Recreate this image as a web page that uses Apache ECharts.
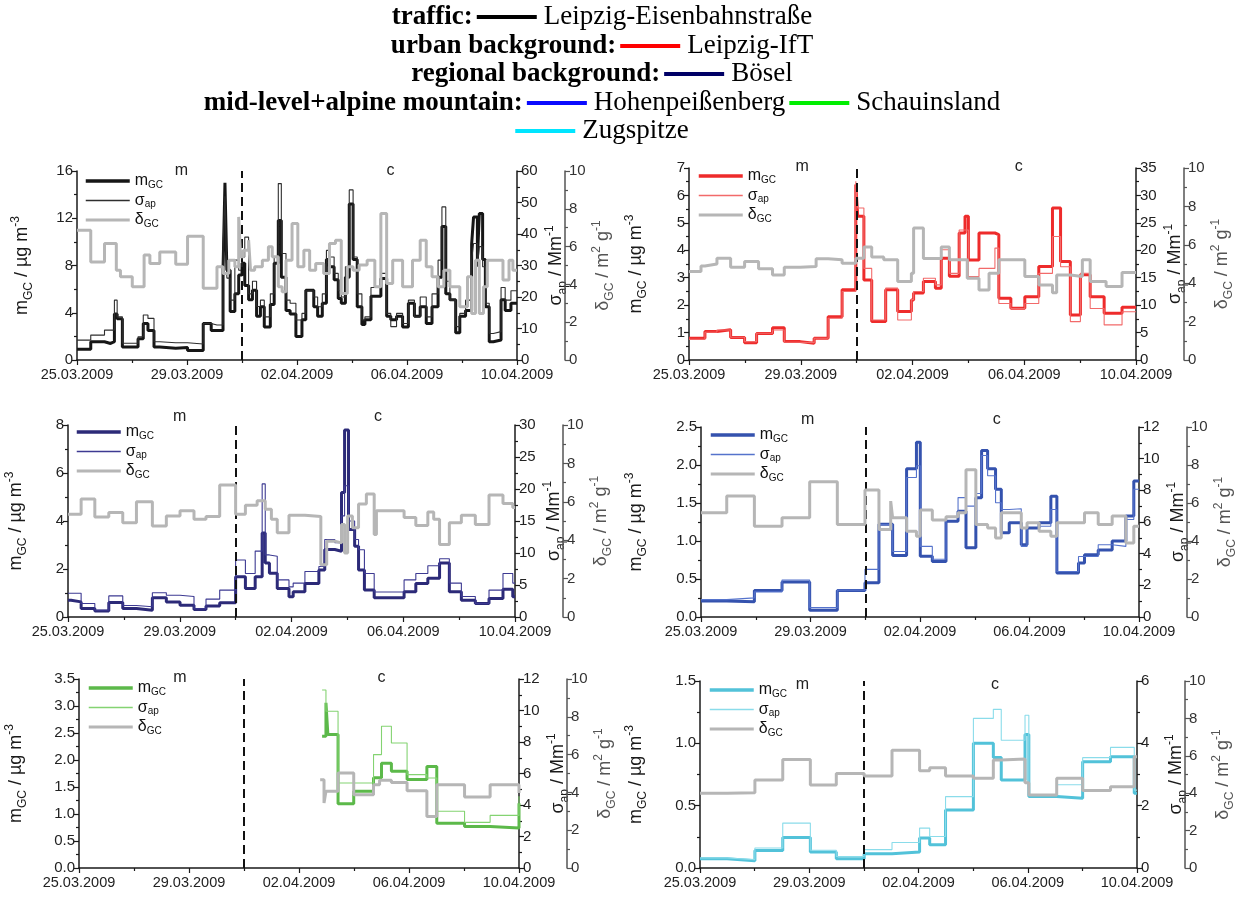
<!DOCTYPE html>
<html><head><meta charset="utf-8">
<script src="https://cdn.jsdelivr.net/npm/echarts@6/dist/echarts.min.js"></script>
<style>html,body{margin:0;padding:0;background:#fff}#c{width:1242px;height:897px}</style>
</head><body><div id="c"></div>
<script>
// ---------- tick labels ----------
const dateLabels = ['25.03.2009','29.03.2009','02.04.2009','06.04.2009','10.04.2009'];

// ---------- data (days after 25.03.2009 00:00) ----------
// Panel 1: traffic, Leipzig-Eisenbahnstraße
const p1Time = [0,0.50,1.00,1.22,1.36,1.46,1.65,2.22,2.41,2.58,2.80,3.01,3.59,4.02,4.59,4.88,5.09,5.31,5.38,5.45,5.57,5.74,5.88,6.00,6.10,6.24,6.38,6.53,6.67,6.81,7.03,7.17,7.32,7.43,7.60,7.75,7.96,8.18,8.32,8.61,8.75,8.92,9.07,9.18,9.35,9.50,9.61,9.76,9.90,10.04,10.19,10.36,10.47,10.69,11.05,11.26,11.41,11.62,11.84,12.05,12.27,12.48,12.70,12.91,13.13,13.27,13.41,13.56,13.77,13.92,14.13,14.35,14.42,14.56,14.63,14.75,14.85,14.99,15.14,15.42,15.57,15.78,16];
const p1M = [0.9,1.55,1.4,1.55,3.9,3.5,1.1,1.8,3.1,2.5,1.1,1.0,1.05,0.8,3.1,2.5,2.5,7.6,15,7.6,4.1,5.6,7.2,8.2,6.3,5.1,5.9,3.7,4.5,2.8,4.7,8.2,11.8,7.0,4.2,3.9,2.0,3.4,5.9,4.5,3.7,4.8,8.5,7.9,6.8,5.2,4.8,7.0,13.2,8.5,4.5,3.0,3.4,5.4,6.9,3.7,3.4,3.7,2.8,4.8,3.7,4.5,3.1,4.5,7.0,11.3,5.6,5.1,2.3,3.7,4.2,9.8,12.1,8.5,12.4,8.5,4.5,1.55,1.7,5.1,4.2,4.8];
const p1S = [6.3,7.9,9.5,9.5,19,13.7,5.3,7.4,14.3,13.2,5.8,5.5,5.5,5.1,11.6,11.1,11.1,36,52,26,19,31.7,28.5,32.7,39,21,25,17,19,13.7,21,32.7,56,33.8,19,18,12.7,14.8,22,20,16.9,21,34.8,32.7,27.5,22,20,29.6,54,32.7,21,12.7,13.7,23,27.5,14.8,10.6,14.8,11.6,19,13.7,20,13.7,21,31.7,48.6,25,19,10.6,14.8,19,31.7,37,29.6,36,29.6,18,8.4,9.0,23,19,22];
const p1DTime = [0,0.50,1.00,1.43,1.58,2.01,2.44,2.65,3.01,3.59,4.02,4.59,5.09,5.31,5.52,5.74,5.88,5.95,6.05,6.24,6.31,6.46,6.74,6.96,7.10,7.32,7.46,7.60,7.82,8.03,8.25,8.46,8.68,8.97,9.18,9.40,9.61,9.83,10.04,10.26,10.55,10.83,11.05,11.26,11.48,11.84,12.20,12.48,12.70,12.91,13.13,13.34,13.56,13.92,14.20,14.35,14.49,14.63,14.78,14.92,15.49,15.71,15.85,16];
const p1D = [6.87,5.19,6.16,4.75,4.4,3.87,5.55,5.1,5.72,5.07,6.55,3.79,4.93,4.58,5.28,4.93,7.57,5.46,5.81,6.34,4.75,4.93,5.28,5.99,5.46,3.87,3.61,5.28,7.22,4.93,5.81,4.75,5.1,4.58,6.16,6.34,3.52,4.93,4.75,5.02,5.28,3.87,7.75,4.05,5.28,3.87,5.28,6.34,4.93,4.4,3.87,4.75,3.87,2.82,4.4,2.46,5.28,2.46,3.87,5.28,4.23,5.28,4.75];

// Panel 2: urban background, Leipzig-IfT
const p2Time = [0,0.57,1.00,1.49,1.99,2.42,2.99,3.41,3.98,4.48,4.98,5.48,5.97,6.04,6.26,6.54,7.04,7.47,7.96,8.04,8.39,8.82,9.03,9.32,9.67,9.88,10.00,10.38,10.95,11.09,11.52,12.02,12.52,13.01,13.30,13.65,14.01,14.36,14.86,15.50,16];
const p2M = [0.79,1.04,1.10,0.82,0.63,0.97,1.18,0.67,0.61,0.79,1.58,2.56,6.4,5.24,2.92,1.40,2.56,1.77,2.19,2.44,2.86,2.62,3.71,3.05,4.63,5.24,3.65,4.63,4.57,2.25,1.89,2.31,3.41,5.54,3.59,1.64,3.11,2.31,1.70,1.92];
const p2S = [3.77,5.05,5.48,4.14,3.35,4.87,5.48,3.23,3.16,3.96,7.6,12.5,32.6,27.7,16.7,7.3,13.1,7.3,11,12.5,14.9,13.7,20.1,15.8,23.7,23.7,15.2,16.7,20.4,10.3,9.4,10.3,15.8,22.5,17,7,15.8,9.4,6.4,8.8];
const p2DTime = [0,0.43,0.57,1.00,1.49,1.99,2.49,2.99,3.41,3.98,4.55,4.98,5.48,5.97,6.26,6.54,6.97,7.47,7.96,8.04,8.39,9.03,9.32,9.96,10.38,10.74,11.09,12.02,12.52,13.01,13.16,13.65,14.08,14.36,14.93,15.50,16];
const p2D = [4.61,4.9,5.0,5.3,4.83,5.13,4.75,4.43,4.83,4.87,5.27,5.22,5.04,5.3,5.88,5.36,5.22,4.09,4.52,6.87,5.29,5.88,5.22,4.26,3.65,4.52,5.22,4.35,3.91,3.5,4.43,4.35,5.22,4.09,3.83,4.56];

// Panel 3: regional background, Bösel
const p3Time = [0,0.11,0.47,0.96,1.46,1.96,2.45,3.02,3.52,4.01,4.51,4.94,5.43,6.00,6.35,6.70,6.95,7.06,7.21,7.49,7.91,8.06,8.48,8.98,9.19,9.55,9.79,9.90,10.04,10.26,10.40,10.61,10.96,12.03,12.45,12.88,13.30,13.65,14.08,14.58,15.07,15.57,15.92,16];
const p3M = [0.7,0.63,0.35,0.25,0.6,0.35,0.28,0.8,0.63,0.49,0.31,0.46,0.59,1.68,1.19,1.68,3.5,2.25,1.82,1.19,0.84,1.05,1.4,1.96,2.81,2.74,5.19,7.79,3.65,2.95,1.96,1.12,0.8,1.05,1.4,1.61,2.25,1.05,0.7,0.56,0.77,1.16,0.84];
const p3S = [3.7,3.7,2.1,1.05,3.3,1.8,1.6,3.8,3.4,3.2,1.3,2.8,4.2,8.9,6.8,10.3,20.8,9.7,9.5,5.8,4.7,5.3,7.1,7.9,12.1,11.6,15.8,20.5,15,12.1,10.5,6.8,3.9,5.8,6.8,8.0,9.1,5.3,3.2,2.1,4.2,6.8,5.3];
const p3DTime = [0,0.47,0.96,1.46,1.96,2.45,3.02,3.52,4.01,4.51,4.94,5.43,6.00,6.35,6.77,7.06,7.28,7.49,7.91,8.48,9.05,9.26,9.55,9.79,9.90,10.01,10.18,10.40,10.68,10.96,11.04,12.03,12.45,12.88,13.09,13.30,13.65,14.08,14.58,15.07,15.57,15.92,16];
const p3D = [5.35,6.14,5.21,5.44,4.91,6.0,4.74,5.26,5.53,5.09,5.23,6.88,5.35,5.82,6.05,5.61,5.09,4.39,5.3,5.23,2.72,3.95,3.86,4.82,3.33,5.26,4.65,5.88,6.4,4.3,5.53,5.18,4.77,5.47,5.09,3.77,4.91,5.3,4.82,6.35,5.91,5.7];

// Panel 4: Hohenpeißenberg
const p4Time = [0,0.94,1.95,2.96,3.97,4.98,5.99,6.50,7.00,7.51,7.87,8.01,8.45,8.95,9.39,9.68,10.04,10.25,10.47,10.76,10.97,11.26,11.70,11.91,12.35,12.78,13.00,13.79,14.01,14.51,15.02,15.52,15.81,16];
const p4M = [0.21,0.2,0.35,0.46,0.09,0.35,0.45,1.22,0.81,1.95,2.3,0.8,0.73,1.26,1.39,0.91,1.57,2.19,1.95,1.68,1.11,1.24,0.95,1.17,1.24,1.59,0.58,0.71,0.82,0.88,1.0,1.33,1.79];
const p4S = [1.1,1.21,1.59,2.34,0.59,1.7,3.01,5.84,4.14,8.81,9.55,4.46,3.65,6.3,7.54,7.0,7.8,10.2,8.92,7.22,6.79,6.84,4.46,5.94,5.73,6.79,2.87,3.82,3.82,4.56,4.46,6.16,8.07];
const p4DTime = [0,0.94,1.95,2.96,3.97,4.98,5.99,6.50,6.93,7.00,7.51,7.87,8.01,8.45,8.95,9.39,9.68,10.04,10.47,10.76,10.97,11.70,11.91,12.35,12.78,13.00,14.01,14.51,15.02,15.52,15.81,16];
const p4D = [5.49,6.37,4.78,5.22,7.12,4.87,6.69,4.6,6.1,5.22,4.51,4.25,5.63,5.1,5.27,5.49,7.75,4.87,4.69,4.16,5.49,4.69,4.96,4.51,4.25,4.96,5.49,4.87,5.31,3.89,4.78];

// Panel 5: Schauinsland
const p5Time = [8.84,8.98,9.05,9.42,9.99,10.71,11.00,11.36,11.93,12.65,13.01,14.02,14.95,16];
const p5M = [2.44,3.06,2.47,1.19,1.42,1.67,1.94,1.79,1.64,1.88,0.83,0.77,0.74,1.2];
const p5S = [11.3,9.95,9.95,5.4,5.4,7.2,9.0,7.94,5.93,5.71,3.6,2.9,3.34,4.55];
const p5DTime = [8.77,8.91,8.98,9.42,9.99,10.71,10.93,11.36,11.93,12.65,13.01,14.02,14.95,16];
const p5D = [4.67,3.44,4.06,5.03,3.88,4.41,4.64,4.53,4.09,2.73,4.41,3.76,4.41,3.97];

// Panel 6: Zugspitze
const p6Time = [0,0.99,2.01,3.03,4.04,4.99,6.01,7.03,8.04,8.41,8.99,10.01,10.74,11.03,11.90,12.04,13.06,14.01,15.03,15.90,16];
const p6M = [0.075,0.059,0.14,0.245,0.128,0.075,0.115,0.128,0.24,0.187,0.466,1.0,0.887,0.706,1.07,0.573,0.56,0.853,0.893,0.6];
const p6S = [0.32,0.27,0.64,1.44,0.57,0.37,0.59,0.82,1.28,1.01,2.29,4.8,5.09,4.1,4.9,2.35,2.67,3.54,3.87,2.5];
const p6DTime = p6Time;
const p6D = [4.0,4.03,4.7,5.8,4.44,5.06,4.92,6.3,5.2,5.36,4.92,4.8,5.77,5.83,4.56,3.91,4.8,4.14,4.35,5.95];

// scales of the panels
const mMax = [16,7,8,2.5,3.5,1.5], mInt = [4,1,2,0.5,0.5,0.5];
const sMax = [60,35,30,12,12,6], sInt = [10,5,5,2,2,2];
const periodDay = 6;                 // dashed separator (31.03.2009)
const mcPos = [[3.8,11.4],[4.05,11.8],[4.0,11.1],[3.9,10.8],[3.67,11.0],[3.75,10.8]];

// ---------- layout / styles ----------
const FONT = 'Liberation Sans';
const layout = [
  {grid:{left:77,top:171,width:440,height:189}, lg:[84,172], gap:43, mDy:0,  dec:0},
  {grid:{left:689,top:168,width:447,height:192}, lg:[697,167], gap:41, mDy:-1, dec:0},
  {grid:{left:68,top:425,width:447,height:192}, lg:[75,423], gap:40, mDy:-8, dec:0},
  {grid:{left:701,top:427,width:438,height:190}, lg:[709,426], gap:53, mDy:-7, dec:1},
  {grid:{left:79,top:679,width:440,height:189}, lg:[87,679], gap:51, mDy:-1, dec:1},
  {grid:{left:700,top:681,width:437,height:187}, lg:[708,681], gap:52, mDy:4, dec:1}
];
const mCol = ['#161616','#ee2b2b','#2c2a78','#3452ae','#5cb94a','#52c2d9'];
const sCol = ['#2e2e2e','#f26a6a','#3d3a92','#5573cc','#84d372','#8adcea'];
const dCol = '#b6b6b6';

const series = [[p1Time,p1M,p1S,p1DTime,p1D],[p2Time,p2M,p2S,p2DTime,p2D],[p3Time,p3M,p3S,p3DTime,p3D],
                [p4Time,p4M,p4S,p4DTime,p4D],[p5Time,p5M,p5S,p5DTime,p5D],[p6Time,p6M,p6S,p6DTime,p6D]];

function steps(t, v) { return t.map((x, i) => [x, v[Math.min(i, v.length - 1)]]); }

const axisCol = '#1a1a1a', dAxisCol = '#555';
const richName = (c) => ({
  sub: {fontSize: 12, fontFamily: FONT, color: c, verticalAlign: 'bottom'},
  sup: {fontSize: 12, fontFamily: FONT, color: c, verticalAlign: 'top'}
});
function yAx(i, opt) {
  const c = opt.col || axisCol;
  return Object.assign({
    type: 'value', gridIndex: i, min: 0,
    nameLocation: 'middle', nameRotate: 90,
    nameTextStyle: {fontSize: 18, fontFamily: FONT, color: c, lineHeight: 25, rich: richName(c)},
    axisLine: {show: true, onZero: false, lineStyle: {color: c, width: 1.5}},
    axisTick: {show: true, inside: false, length: 5, lineStyle: {color: c, width: 1.2}},
    minorTick: {show: true, splitNumber: 2, length: 3, lineStyle: {color: c, width: 1.2}},
    splitLine: {show: false}, minorSplitLine: {show: false},
    axisLabel: {fontSize: 15, fontFamily: FONT, color: '#222', margin: 4}
  }, opt.o);
}

const grids = [], xAxes = [], yAxes = [], allSeries = [], legends = [];
layout.forEach((L, i) => {
  grids.push(Object.assign({outerBoundsMode: 'none', containLabel: false}, L.grid));
  xAxes.push({
    type: 'value', gridIndex: i, min: 0, max: 16, interval: 4,
    axisLine: {show: true, onZero: false, lineStyle: {color: axisCol, width: 1.5}},
    axisTick: {show: true, length: 5, lineStyle: {color: axisCol, width: 1.2}},
    minorTick: {show: true, splitNumber: 2, length: 3, lineStyle: {color: axisCol, width: 1.2}},
    splitLine: {show: false}, minorSplitLine: {show: false},
    axisLabel: {fontSize: 14.5, fontFamily: FONT, color: '#222', margin: 7,
      formatter: v => dateLabels[Math.round(v / 4)]}
  });
  yAxes.push(yAx(i, {o: {position: 'left', max: mMax[i], interval: mInt[i], nameGap: L.gap - 1,
    name: 'm{sub|GC} / µg m{sup|-3}',
    axisLabel: {fontSize: 15, fontFamily: FONT, color: '#222', margin: 4,
      formatter: v => v.toFixed(L.dec)}}}));
  yAxes.push(yAx(i, {o: {position: 'right', offset: 0, max: sMax[i], interval: sInt[i], nameGap: 27,
    name: 'σ{sub|ap} / Mm{sup|-1}'}}));
  yAxes.push(yAx(i, {col: dAxisCol, o: {position: 'right', offset: 48, max: 10, interval: 2, nameGap: 26,
    name: 'δ{sub|GC} / m{sup|2} g{sup|-1}',
    axisLabel: {fontSize: 15, fontFamily: FONT, color: '#333', margin: 4}}}));
  const [t, m, s, dt, d] = series[i];
  allSeries.push({
    type: 'line', name: 'm' + i, xAxisIndex: i, yAxisIndex: 3 * i, data: steps(t, m),
    step: 'end', symbol: 'none', lineStyle: {width: 3, color: mCol[i]}, itemStyle: {color: mCol[i]}, z: 3,
    markLine: {silent: true, symbol: ['none', 'none'], label: {show: false},
      lineStyle: {type: [9, 5], color: '#111', width: 2}, data: [{xAxis: periodDay}]}
  });
  allSeries.push({
    type: 'line', name: 's' + i, xAxisIndex: i, yAxisIndex: 3 * i + 1, data: steps(t, s),
    step: 'end', symbol: 'none', lineStyle: {width: 1.1, color: sCol[i]}, itemStyle: {color: sCol[i]}, z: 4
  });
  allSeries.push({
    type: 'line', name: 'd' + i, xAxisIndex: i, yAxisIndex: 3 * i + 2, data: steps(dt, d),
    step: 'end', symbol: 'none', lineStyle: {width: 3, color: dCol}, itemStyle: {color: dCol}, z: 5
  });
  legends.push({
    left: L.lg[0], top: L.lg[1], orient: 'vertical', padding: 0, itemWidth: 44, itemHeight: 14, itemGap: 1.5,
    selectedMode: false,
    data: [{name: 'm' + i, lineStyle: {width: 3.5}}, {name: 's' + i, lineStyle: {width: 1.6}},
           {name: 'd' + i, lineStyle: {width: 3}}],
    itemStyle: {opacity: 0, borderWidth: 0},
    formatter: n => n[0] === 'm' ? 'm{sub|GC}' : (n[0] === 's' ? 'σ{sub|ap}' : 'δ{sub|GC}'),
    textStyle: {fontSize: 16, fontFamily: FONT, color: '#111', lineHeight: 18,
      rich: {sub: {fontSize: 10, fontFamily: FONT, color: '#111', verticalAlign: 'bottom'}}}
  });
});

const chart = echarts.init(document.getElementById('c'), null, {renderer: 'canvas'});
chart.setOption({
  animation: false, backgroundColor: '#fff',
  grid: grids, xAxis: xAxes, yAxis: yAxes, series: allSeries, legend: legends
});

// ---------- header legend and m/c period labels ----------
const serif = 'Liberation Serif';
const topRich = {
  b: {fontFamily: serif, fontWeight: 'bold', fontSize: 27, color: '#000'},
  n: {fontFamily: serif, fontSize: 27, color: '#000'},
  s1: {width: 4}, s2: {width: 7},
  l0: {width: 60, height: 4, backgroundColor: '#000000', verticalAlign: 'middle'},
  l1: {width: 60, height: 4, backgroundColor: '#ff0000', verticalAlign: 'middle'},
  l2: {width: 60, height: 4, backgroundColor: '#000066', verticalAlign: 'middle'},
  l3: {width: 60, height: 4, backgroundColor: '#0a0aff', verticalAlign: 'middle'},
  l4: {width: 60, height: 4, backgroundColor: '#00ee00', verticalAlign: 'middle'},
  l5: {width: 60, height: 4, backgroundColor: '#00e5ff', verticalAlign: 'middle'}
};
const topRows = [
  '{b|traffic:}{s1|}{l0|}{s2|}{n|Leipzig-Eisenbahnstraße}',
  '{b|urban background:}{s1|}{l1|}{s2|}{n|Leipzig-IfT}',
  '{b|regional background:}{s1|}{l2|}{s2|}{n|Bösel}',
  '{b|mid-level+alpine mountain:}{s1|}{l3|}{s2|}{n|Hohenpeißenberg}{s1|}{l4|}{s2|}{n|Schauinsland}',
  '{l5|}{s2|}{n|Zugspitze}'
];
const rowY = [17, 46, 74, 103, 131];
const g = topRows.map((txt, k) => ({
  type: 'text', x: 602, y: rowY[k], silent: true,
  style: {text: txt, rich: topRich, fontFamily: serif, fontSize: 27, fill: '#000',
    align: 'center', textAlign: 'center', verticalAlign: 'middle', textVerticalAlign: 'middle'}
}));
layout.forEach((L, i) => {
  ['m', 'c'].forEach((lab, k) => {
    const p = chart.convertToPixel({xAxisIndex: i, yAxisIndex: 3 * i}, [mcPos[i][k], mMax[i]]);
    g.push({type: 'text', x: p[0], y: p[1] + L.mDy, silent: true,
      style: {text: lab, fontFamily: FONT, fontSize: 16, fill: '#222',
        align: 'center', textAlign: 'center', verticalAlign: 'middle', textVerticalAlign: 'middle'}});
  });
});
chart.setOption({graphic: g});
</script>
</body></html>
